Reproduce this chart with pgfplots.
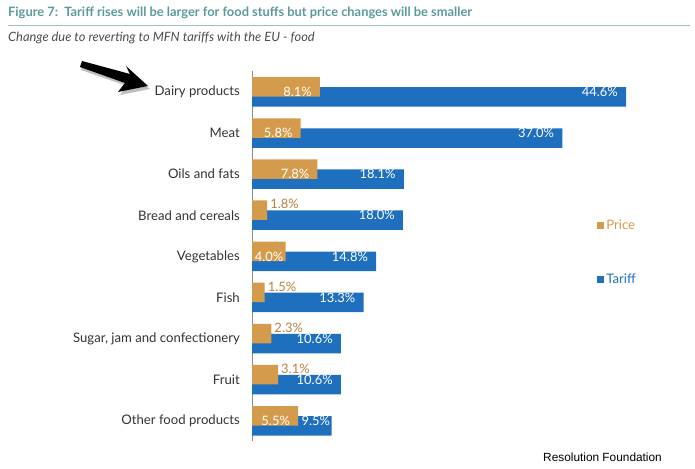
\documentclass[border=0pt]{standalone}
\usepackage{pgfplots}
\pgfplotsset{compat=1.18}
\usepackage{fontspec}
\setmainfont{Lato}
\newfontfamily\arialfont{Liberation Sans}
\definecolor{pc}{HTML}{D49B4C}
\definecolor{tc}{HTML}{1F6FBF}
\definecolor{plab}{HTML}{B9803F}
\definecolor{ttl}{HTML}{5B9A9B}
\definecolor{rul}{HTML}{9CC0C1}
\newcommand\nlfont{\fontsize{13}{15}\selectfont}
\begin{document}
\begin{tikzpicture}[x=1bp,y=1bp]
\useasboundingbox (0,0) rectangle (695,-469);
\node[anchor=west, font=\bfseries\fontsize{12.9}{15}\selectfont, text=ttl, inner sep=0] at (8,-13) {Figure 7:\ \ Tariff rises will be larger for food stuffs but price changes will be smaller};
\draw[rul, line width=1.2bp] (8,-25.5) -- (690,-25.5);
\node[anchor=west, font=\itshape\fontsize{12.9}{15}\selectfont, text=black!70, inner sep=0] at (8,-38) {Change due to reverting to MFN tariffs with the EU - food};
% arrow
\fill[black!25] (83,-64) -- (131,-77) -- (127,-69) -- (150,-89) -- (120,-95) -- (127,-86) -- (81,-70) -- cycle;
\fill[black] (82,-61) -- (130,-74) -- (126,-66) -- (148,-86) -- (118,-92) -- (125,-83) -- (80,-67) -- cycle;
\node[anchor=west, font=\arialfont\fontsize{11.9}{14}\selectfont, inner sep=0] at (543,-457) {Resolution Foundation};
\begin{axis}[
  at={(252bp,-441bp)}, anchor=south west,
  scale only axis, width=419.3bp, height=370.1bp,
  xmin=0, xmax=50, ymin=-0.49, ymax=8.51,
  hide x axis,
  axis y line*=left,
  y axis line style={black!45, line width=0.8bp, -},
  ytick={0,...,8},
  yticklabels={Other food products,Fruit,{Sugar, jam and confectionery},Fish,Vegetables,Bread and cereals,Oils and fats,Meat,Dairy products},
  major tick length=0pt,
  yticklabel style={inner sep=0pt, xshift=-12bp, font=\fontsize{13.2}{15}\selectfont, text=black!80},
  /pgf/number format/assume math mode=true,
  bar width=19.5bp,
  point meta=x,
  nodes near coords={\nlfont\pgfmathprintnumber[fixed,fixed zerofill,precision=1]{\pgfplotspointmeta}\%},
  reverse legend,
  legend style={at={(0.823,0.602)}, anchor=north west, draw=none, fill=none, row sep=38bp, font=\fontsize{13.2}{15}\selectfont, inner sep=0pt},
  legend cell align=left,
]
\addplot[xbar, fill=tc, draw=none, bar shift=-5bp, nodes near coords={},
  legend image code/.code={\fill[tc] (0bp,-3.5bp) rectangle (7bp,3.5bp);}]
  coordinates {(44.6,8) (37.0,7) (18.1,6) (18.0,5) (14.8,4) (13.3,3) (10.6,2) (10.6,1) (9.5,0)};
\addlegendentry{\textcolor{tc}{Tariff}}
\addplot[forget plot, xbar, draw=none, fill=none, bar shift=-5bp,
  every node near coord/.append style={anchor=east, inner sep=0pt, xshift=-8bp, text=white}]
  coordinates {(44.6,8) (37.0,7) (18.1,6) (18.0,5) (14.8,4) (13.3,3) (10.6,2) (10.6,1)};
\addplot[forget plot, xbar, draw=none, fill=none, bar shift=-5bp,
  every node near coord/.append style={anchor=east, inner sep=0pt, xshift=-1.5bp, text=white}]
  coordinates {(9.5,0)};
\addplot[xbar, fill=pc, draw=none, bar shift=5bp, nodes near coords={},
  legend image code/.code={\fill[pc] (0bp,-3.5bp) rectangle (7bp,3.5bp);}]
  coordinates {(8.1,8) (5.8,7) (7.8,6) (1.8,5) (4.0,4) (1.5,3) (2.3,2) (3.1,1) (5.5,0)};
\addlegendentry{\textcolor{pc}{Price}}
\addplot[forget plot, xbar, draw=none, fill=none, bar shift=5bp,
  every node near coord/.append style={anchor=east, inner sep=0pt, xshift=-8bp, text=white}]
  coordinates {(8.1,8) (5.8,7) (7.8,6) (5.5,0)};
\addplot[forget plot, xbar, draw=none, fill=none, bar shift=5bp,
  every node near coord/.append style={anchor=east, inner sep=0pt, xshift=-2bp, text=white}]
  coordinates {(4.0,4)};
\addplot[forget plot, xbar, draw=none, fill=none, bar shift=5bp,
  every node near coord/.append style={anchor=west, inner sep=0pt, xshift=3bp, yshift=11bp, text=plab}]
  coordinates {(1.8,5) (1.5,3) (2.3,2) (3.1,1)};
\end{axis}
\end{tikzpicture}
\end{document}
